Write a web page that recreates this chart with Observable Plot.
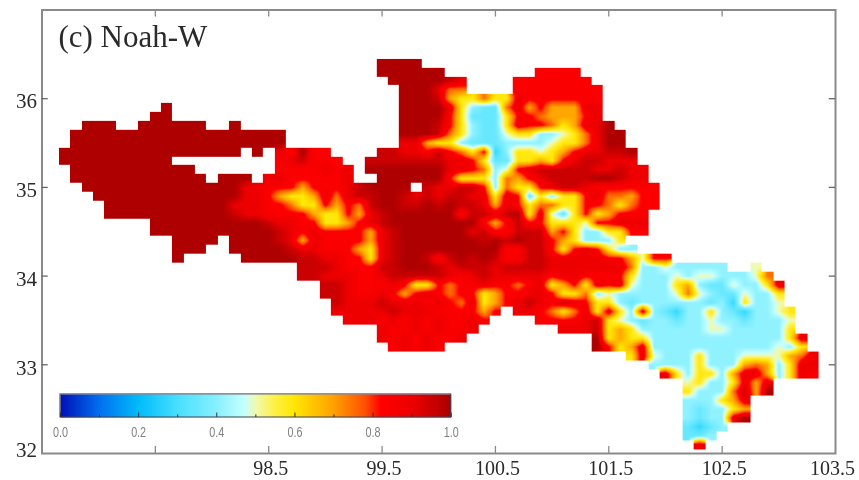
<!DOCTYPE html>
<html>
<head>
<meta charset="utf-8">
<script src="https://cdn.jsdelivr.net/npm/d3@7"></script>
<script src="https://cdn.jsdelivr.net/npm/@observablehq/plot@0.6"></script>
<style>html,body{margin:0;padding:0;background:#fff}</style>
</head>
<body>
<div id="chart"></div>
<script>
const title = "(c) Noah-W";
const lonTicks = [97.5, 98.5, 99.5, 100.5, 101.5, 102.5];
const lonLabels = [98.5, 99.5, 100.5, 101.5, 102.5];
const lonLastLabel = [103.5];
const latTicks = [33, 34, 35, 36];
const latLabels = [33, 34, 35, 36];
const latFirstLabel = [32];
const barLabels = [0, 0.2, 0.4, 0.6, 0.8, 1];
const barMinor = [0.1, 0.3, 0.5, 0.7, 0.9];

// colour scale
const colorDomain = [0, 0.1, 0.2, 0.3, 0.4, 0.47, 0.5, 0.55, 0.6, 0.7, 0.78, 0.82, 0.9, 1];
const colorRange = ["#0010b8", "#0070f0", "#00bcfa", "#48e0ff", "#88f0ff", "#c4ffff", "#f0fab0", "#fff040", "#ffe600", "#ffa000", "#ff5000", "#ff0000", "#ee0000", "#a80000"];

// level of each letter
const levels = {D: 0.99, d: 0.95, R: 0.9, r: 0.84, o: 0.75, a: 0.69, y: 0.59, l: 0.5, c: 0.41, b: 0.35, B: 0.27};

// grid cells: 0.1 degree, first row at 36.4N, first column at 96.7E; "column letters" per run
const rows = [
"28 DDDD",
"28 DDDDDD|42 rrrr",
"29 DDDDDdR|40 rrrrrrr",
"30 DDDRoo|40 rrrrrrrr",
"30 DDDdayyoyyRrrrrrrr",
"9 D|30 DDDDRycbboRaraaaRR",
"8 DD|30 DDDDrybbbyrroaaarR",
"2 DDD|7 DDDDDD|15 D|30 DDDdrycbbyRrroyaRRD",
"1 DDDDDDDDDDDDDDDDDDD|30 DDDdoycbblyycclyoRDD",
"1 DDDDDDDDDDDDDDDDDDD|30 RRayycbbbcccclyyoRDD",
"0 DDDDDDDDDDDDDDDD|17 D|19 RrDrr|28 ddRRrdroyrBcyylyarRRddD",
"0 DDDDDDDDDD|19 rRdrrr|27 dddddddRRrybbyyayrRddRRR",
"1 DDDDDDDDDDD|19 rrrrRrR|27 DDDDDDDRRroclrRdddddRRdRR",
"1 DDDDDDDDDDDD|14 DDD|18 RRrrrrrR|28 DDDDDDryyycoarRddddDDdRR",
"2 DDDDDDDDDDDDDDRRrrrarrrRdDDDD|32 dRRddrcoyyrRddRrrrrrr",
"3 DDDDDDDDDDDDDRRrayyaRoRddDDdRdRddRRyRrbycyyrRooarr",
"4 DDDDDDDDDDDRRRrroyyrarodDDddDdDddRaRryooyyrroyorr",
"4 DDDDDDDDDDDdRRrrrrayyraRdDDDDDDrddRdDyRlbyryarrr",
"8 DDDDDDDDDDdRRrryyarRdDDDDDDDDrardrryyylrrRRR",
"8 DDDDDDDDDDDdRrRrrrraRdDDDDDDRdrrdddaryccyyrr",
"10 DDDD|15 DDDDdRaRrrrraRdDDDDDDDdDdDddraycccy",
"10 DDD|15 DDDDDdRRrrrayRdDDDDDDDDDrrddryrRrycc",
"10 D|16 DDDDDddRRrryRdDDdrdDdDdrrddRRRRRrralrr",
"21 dddRrrrddDDDdRdddRddddRRRRRRRocclccccc|61 l",
"21 ddRRRrrRdddddRrRdRRRRRrRRrrrryccclcllccclo",
"23 ddRrrrRryyrorrRrrorRyaryRrRlcccyacbblccyR",
"23 ddRrrRrarRrorryarrRRryyoclccccclolcbblccy",
"24 dRRRdRRRrRroRyarRdRrdRryycbccccccbcByccl",
"24 RRRRRdRRRrrrrar|40 RRroyoRyRycRcbBccycbBccly",
"25 RRRrRrRrRrrRr|42 rrrrRdylcbccbcclccbcccl",
"28 RrrRrRrrR|44 RRRdyayccccccllcccccy",
"28 RrRrRrrR|47 DyayyccccccccccccyR",
"29 rRrRr|47 DryaRccccccccccclcy",
"50 yRlcccycccllllaoR",
"52 ccccycccaoacyRR",
"53 RycyycaRRacyRr",
"55 lyccyRaR",
"55 ycccodaD",
"55 cccyaR",
"55 cbccya",
"55 cbccRD",
"55 bBbc",
"55 bbc",
"56 R"
];

const grid = rows.map(row => {
  const out = new Array(67).fill(null);
  for (const seg of row.split("|")) {
    const [start, run] = seg.split(" ");
    [...run].forEach((ch, k) => { out[+start + k] = levels[ch]; });
  }
  return out;
});

const cell = (j, i) => (grid[j] && grid[j][i] != null ? grid[j][i] : null);
function sample(lon, lat) {
  const u = (lon - 96.7) * 10, v = (36.4 - lat) * 10;
  if (cell(Math.round(v), Math.round(u)) == null) return NaN;
  const i0 = Math.floor(u), j0 = Math.floor(v), fu = u - i0, fv = v - j0;
  let sum = 0, w = 0;
  for (const [j, i, wt] of [[j0, i0, (1 - fu) * (1 - fv)], [j0, i0 + 1, fu * (1 - fv)], [j0 + 1, i0, (1 - fu) * fv], [j0 + 1, i0 + 1, fu * fv]]) {
    const c = cell(j, i);
    if (c != null) { sum += c * wt; w += wt; }
  }
  return sum / w;
}

const barLeft = 96.663, barRight = 100.11, barTop = 32.666, barBottom = 32.406;
const barLon = v => barLeft + v * (barRight - barLeft);
const ink = "#2a2a2a", frameInk = "#8a8a8a";
const xAxisStyle = {anchor: "bottom", tickSize: 0, tickPadding: 7, tickFormat: d => d.toFixed(1), fontFamily: "Liberation Serif", fontSize: 20, fill: ink, label: null};
const yAxisStyle = {anchor: "left", tickSize: 0, tickPadding: 5, tickFormat: d => String(d), fontFamily: "Liberation Serif", fontSize: 21, fill: ink, label: null};

const plot = Plot.plot({
  width: 859, height: 480,
  marginLeft: 41.5, marginRight: 24, marginTop: 9.5, marginBottom: 27,
  x: {domain: [96.5, 103.5]},
  y: {domain: [32, 37]},
  color: {type: "linear", domain: colorDomain, range: colorRange, interpolate: "rgb"},
  style: {background: "#fff", filter: "blur(0.45px)"},
  marks: [
    Plot.raster({fill: (lon, lat) => sample(lon, lat), x1: 96.5, x2: 103.5, y1: 32, y2: 37, pixelSize: 1}),
    Plot.raster({fill: (lon, lat) => (lon - barLeft) / (barRight - barLeft), x1: barLeft, x2: barRight, y1: barBottom, y2: barTop, pixelSize: 1}),
    Plot.rect([0], {x1: barLeft, x2: barRight, y1: barBottom, y2: barTop, stroke: "#445", strokeWidth: 1, fill: "none"}),
    Plot.ruleX(barLabels, {x: barLon, y1: barBottom, y2: barBottom + 0.05, stroke: "#333"}),
    Plot.ruleX(barMinor, {x: barLon, y1: barBottom, y2: barBottom + 0.03, stroke: "#333"}),
    Plot.text(barLabels, {x: barLon, y: 32.237, text: d => d.toFixed(1), fontFamily: "Liberation Sans", fontSize: 14, fill: "#808080"}),
    Plot.frame({stroke: frameInk, strokeWidth: 2}),
    Plot.ruleX(lonTicks, {x: d => d, y1: 32, y2: 32.08, stroke: frameInk, strokeWidth: 1.3}),
    Plot.ruleX(lonTicks, {x: d => d, y1: 37, y2: 36.92, stroke: frameInk, strokeWidth: 1.3}),
    Plot.ruleY(latTicks, {y: d => d, x1: 96.5, x2: 96.555, stroke: "#666", strokeWidth: 1.3}),
    Plot.ruleY(latTicks, {y: d => d, x1: 103.5, x2: 103.445, stroke: "#666", strokeWidth: 1.3}),
    Plot.axisX(lonLabels, {...xAxisStyle, dx: 2}),
    Plot.axisX(lonLastLabel, {...xAxisStyle, dx: -3}),
    Plot.axisY(latLabels, {...yAxisStyle, dy: 3}),
    Plot.axisY(latFirstLabel, {...yAxisStyle, dy: -3}),
    Plot.text([title], {x: 96.645, y: 36.69, text: d => d, textAnchor: "start", fontFamily: "Liberation Serif", fontSize: 31, fill: ink})
  ]
});
for (const t of plot.querySelectorAll("text")) {
  if (/^[01]\.\d$/.test(t.textContent)) {
    t.setAttribute("textLength", 15);
    t.setAttribute("lengthAdjust", "spacingAndGlyphs");
  }
}
document.getElementById("chart").append(plot);
</script>
</body>
</html>
